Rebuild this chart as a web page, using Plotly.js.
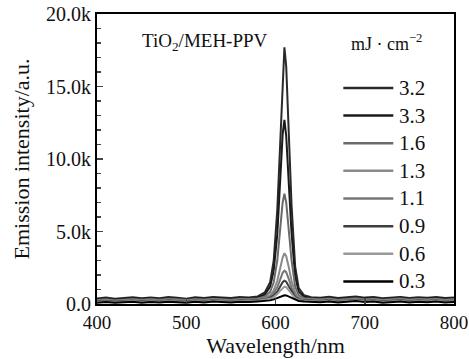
<!DOCTYPE html>
<html>
<head>
<meta charset="utf-8">
<script src="https://cdn.plot.ly/plotly-3.0.1.min.js"></script>
<style>html,body{margin:0;padding:0;background:#fff;}#chart{width:469px;height:359px;}</style>
</head>
<body>
<div id="chart"></div>
<script>
const wavelength = [400,410,420,430,440,450,460,470,480,490,500,510,520,530,540,550,560,570,580,588,594,598,602,605,608,610,612,615,618,622,626,632,640,650,660,670,680,690,700,710,720,730,740,750,760,770,780,790,800];

const fluenceLabels = ["3.2","3.3","1.6","1.3","1.1","0.9","0.6","0.3"];
const seriesColors = ["#2a2a2a","#1a1a1a","#6a6a6a","#8a8a8a","#777777","#3c3c3c","#9a9a9a","#000000"];

const s32 = [380,450,360,420,470,390,440,400,480,430,370,460,410,490,440,420,480,450,520, 800,1500,3000,6500,10800,15800,17700,16400,11500,6800,2600,1100,600, 470,430,500,410,460,520,440,480,400,450,490,420,470,430,480,410,450];
const s33 = [320,380,300,360,410,340,390,350,420,370,330,400,360,430,380,350,420,390,450, 650,1200,2300,4800,8000,11700,12700,11600,8200,4900,1900,850,500, 420,380,440,360,410,460,390,430,350,400,440,370,420,380,430,360,400];
const s16 = [280,330,260,310,350,290,340,300,360,320,280,350,310,370,330,300,360,340,380, 500,850,1500,3000,4900,7000,7600,7000,5000,3000,1200,600,400, 360,320,380,300,350,400,330,370,290,340,380,310,360,320,370,300,340];
const s13 = [230,280,210,260,300,240,290,250,310,270,230,300,260,320,280,250,310,290,330, 420,600,950,1600,2400,3200,3500,3300,2500,1600,800,450,330, 310,270,330,250,300,350,280,320,240,290,330,260,310,270,320,250,290];
const s11 = [200,250,180,230,270,210,260,220,280,240,200,270,230,290,250,220,280,260,300, 380,500,750,1150,1650,2150,2300,2200,1700,1150,600,380,290, 280,240,300,220,270,320,250,290,210,260,300,230,280,240,290,220,260];
const s09 = [170,210,150,190,230,170,220,180,240,200,160,230,190,250,210,180,240,220,260, 320,420,580,850,1180,1500,1600,1540,1200,850,480,320,250, 240,200,260,180,230,280,210,250,170,220,260,190,240,200,250,180,220];
const s06 = [140,180,120,160,200,140,190,150,210,170,130,200,160,220,180,150,210,190,230, 280,360,480,680,900,1130,1200,1160,920,670,400,280,220, 210,170,230,150,200,250,180,220,140,190,230,160,210,170,220,150,190];
const s03 = [90,130,80,110,150,90,140,100,160,120,80,150,110,170,130,100,160,140,180, 200,250,320,410,500,580,600,590,500,400,280,210,170, 160,120,180,100,150,200,130,170,90,140,180,110,160,120,170,100,140];

const seriesValues = [s32,s33,s16,s13,s11,s09,s06,s03];

const yTickVals = [0,5000,10000,15000,20000];
const yTickText = ["0.0","5.0k","10.0k","15.0k","20.0k"];
const xTickVals = [400,500,600,700,800];

const serif = "Liberation Serif, Times New Roman, serif";

const traces = seriesValues.map((v,i)=>({
  x: wavelength, y: v, type: "scatter", mode: "lines",
  name: fluenceLabels[i], showlegend: false,
  line: {color: seriesColors[i], width: 2}
}));

// manual legend
const shapes = [];
const annotations = [
  {xref:"paper", yref:"paper", x:0.12, y:0.905, xanchor:"left", yanchor:"middle", showarrow:false,
   text:"TiO<sub>2</sub>/MEH-PPV", font:{family:serif, size:19, color:"#111"}},
  {xref:"paper", yref:"paper", x:0.705, y:0.9, xanchor:"left", yanchor:"middle", showarrow:false,
   text:"mJ · cm<sup>−2</sup>", font:{family:serif, size:18, color:"#111"}}
];
const legendY0 = 0.745, legendStep = 0.0953;
fluenceLabels.forEach((lab,i)=>{
  const yy = legendY0 - i*legendStep;
  shapes.push({type:"line", xref:"paper", yref:"paper", x0:0.69, x1:0.83, y0:yy, y1:yy,
    line:{color:seriesColors[i], width:2.5}});
  annotations.push({xref:"paper", yref:"paper", x:0.84, y:yy, xanchor:"left", yanchor:"middle",
    showarrow:false, text:lab, font:{family:serif, size:21, color:"#111"}});
});

const layout = {
  width: 469, height: 359,
  margin: {l: 97, r: 15, t: 14, b: 55},
  paper_bgcolor: "#fff", plot_bgcolor: "#fff",
  showlegend: false,
  font: {family: serif, size: 20, color: "#111"},
  xaxis: {
    range: [400,800], tickvals: xTickVals, ticks: "inside", ticklen: 6, tickwidth: 1.5,
    ticklabeloverflow: "allow",
    showline: true, mirror: true, linecolor: "#000", linewidth: 2, showgrid: false, zeroline: false,
    tickfont: {family: serif, size: 19, color: "#111"},
    title: {text: "Wavelength/nm", font: {family: serif, size: 22, color: "#111"}, standoff: 4}
  },
  yaxis: {
    range: [0,20000], tickvals: yTickVals, ticktext: yTickText, ticks: "inside", ticklen: 6, tickwidth: 1.5,
    ticklabeloverflow: "allow",
    minor: {dtick: 1000, ticks: "inside", ticklen: 4, tickwidth: 1.2, showgrid: false},
    showline: true, mirror: true, linecolor: "#000", linewidth: 2, showgrid: false, zeroline: false,
    tickfont: {family: serif, size: 20, color: "#111"},
    title: {text: "Emission intensity/a.u.", font: {family: serif, size: 22, color: "#111"}, standoff: 10}
  },
  shapes: shapes,
  annotations: annotations
};

Plotly.newPlot("chart", traces, layout, {displayModeBar: false, staticPlot: true});
</script>
</body>
</html>
